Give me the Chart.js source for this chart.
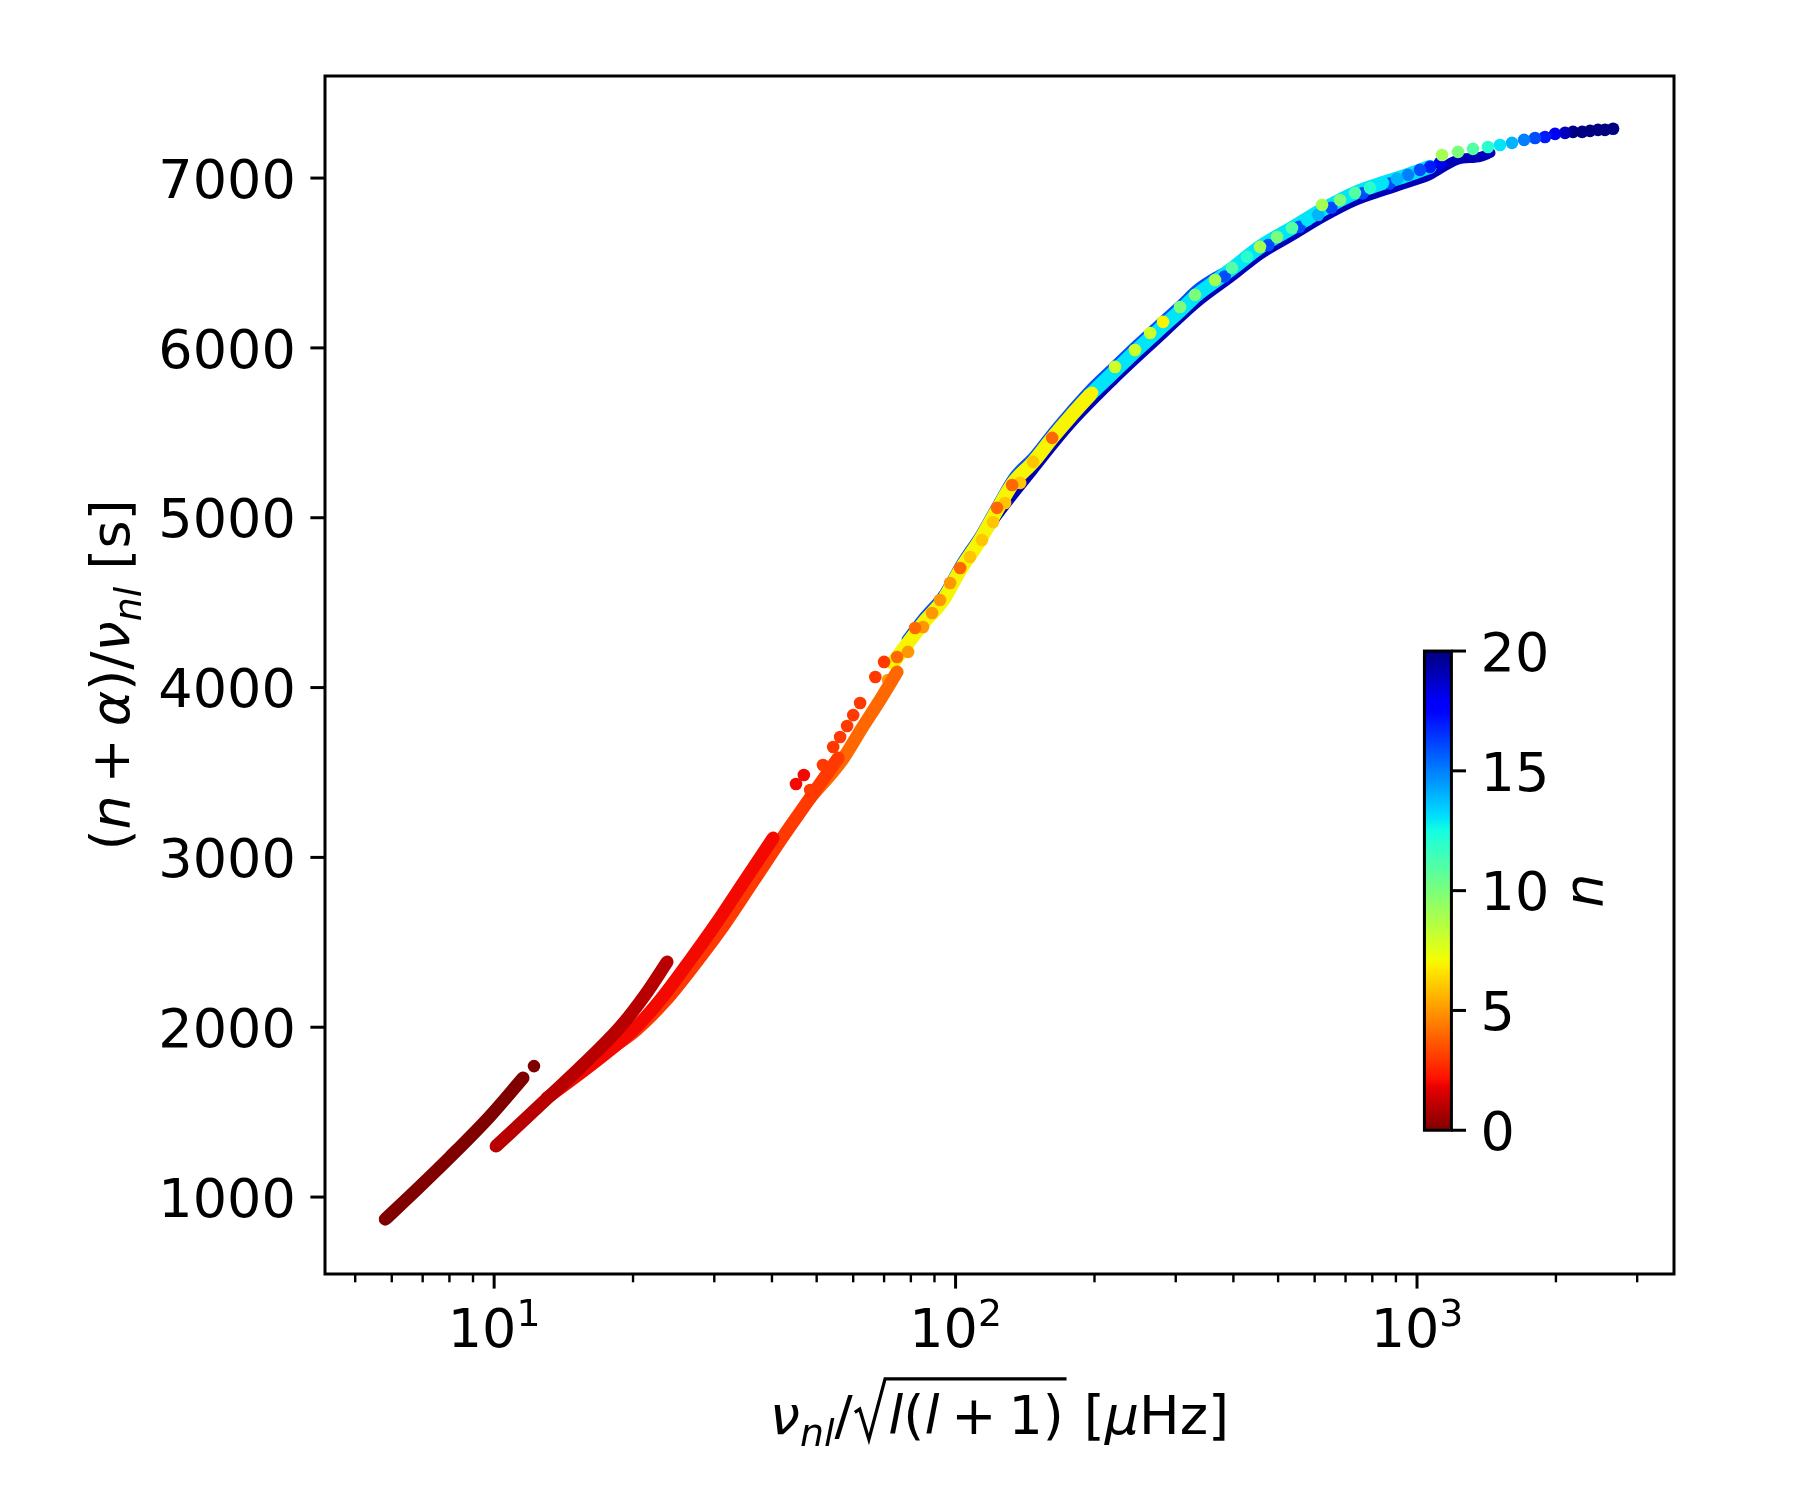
<!DOCTYPE html>
<html>
<head>
<meta charset="utf-8">
<script src="https://cdn.jsdelivr.net/npm/chart.js@4.4.0/dist/chart.umd.min.js"></script>
<style>
    html, body { margin: 0; padding: 0; background: #fff; }
    canvas { display: block; }
</style>
</head>
<body>
<canvas id="echelle" width="1800" height="1500"></canvas>
<script>
// Axis limits and ticks
const xMin = 4.30, xMax = 3605;
const yMin = 547, yMax = 7601;
const yTicks = [1000, 2000, 3000, 4000, 5000, 6000, 7000];
const xMajorTicks = [10, 100, 1000];
const xMinorTicks = [5, 6, 7, 8, 9, 20, 30, 40, 50, 60, 70, 80, 90, 200, 300, 400, 500, 600, 700, 800, 900, 2000, 3000];
const cbarTicks = [0, 5, 10, 15, 20];
const nMax = 20;

// Dense ridges (many l values overlapping), drawn as thick strokes
const s0x = [5.81, 6.81, 8.03, 9.8, 11.55];
const s0y = [870, 1047, 1236, 1477, 1701];
const s1x = [10.1, 12.58, 15.4, 18.75, 21.24, 23.7];
const s1y = [1300, 1542, 1766, 2001, 2190, 2384];
const s2x = [13.02, 16.97, 20.01, 22.89, 26.59, 30.12, 34.98, 40.23];
const s2y = [1583, 1819, 1983, 2160, 2396, 2602, 2867, 3114];
const s3x = [18.0, 20.31, 23.59, 27.67, 31.50, 36.60, 42.07, 48.39, 55.65];
const s3y = [1878, 1983, 2160, 2396, 2602, 2867, 3114, 3350, 3585];
const s4x = [48.4, 56.8, 62.7, 68.6, 74.7];
const s4y = [3350, 3574, 3762, 3927, 4092];

// Single modes, one array pair per radial order n
const p0x = [12.2];
const p0y = [1771];
const p2x = [45.1, 46.9];
const p2y = [3432, 3485];
const p3x = [48.4, 51.6, 54.3, 56.2, 58.2, 60.0, 62.1, 67.0, 70.0];
const p3y = [3397, 3544, 3650, 3709, 3774, 3838, 3909, 4062, 4151];
const p4x = [74.7, 81.7, 102.3, 123.0, 132.6, 161.9];
const p4y = [4180, 4351, 4704, 5058, 5193, 5470];
const p5x = [71.4, 78.9, 85.0, 88.9, 92.5, 97.3];
const p5y = [4045, 4210, 4357, 4439, 4516, 4616];
const p6x = [107.5, 114.1, 120.6, 128.0, 138.0, 147.2];
const p6y = [4769, 4869, 4975, 5087, 5205, 5329];
const p7x = [177.0, 197.6, 281.6];
const p7y = [5593, 5735, 6153];
const p8x = [221.6, 244.8, 264.0];
const p8y = [5888, 5988, 6088];
const p9x = [365.0, 456.8, 622.6, 1133];
const p9y = [6400, 6595, 6842, 7136];
const p10x = [306.5, 330.3, 497.3, 681.0, 1227];
const p10y = [6241, 6312, 6653, 6871, 7154];
const p11x = [397.2, 535.9, 733.9, 1322];
const p11y = [6471, 6706, 6913, 7172];
const p12x = [428.2, 791.0, 1425];
const p12y = [6536, 6942, 7183];
const p13x = [577.9, 844.0, 1513];
const p13y = [6754, 6971, 7195];
const p14x = [610.4, 905.0, 1606];
const p14y = [6783, 6995, 7207];
const p15x = [956.1, 1706];
const p15y = [7019, 7225];
const p16x = [383, 476, 556, 652, 762, 872, 1015, 1802];
const p16y = [6420, 6605, 6713, 6825, 6910, 6968, 7048, 7236];
const p17x = [1067, 1894];
const p17y = [7066, 7242];
const p18x = [1121, 1991];
const p18y = [7089, 7260];
const p19x = [2093];
const p19y = [7266];
const p20x = [2178, 2280, 2371, 2467, 2554, 2660];
const p20y = [7272, 7272, 7278, 7284, 7284, 7290];

// Overlapping modes under the dots of the upper branch
const b7x = [73.2, 85.1, 94.0, 102.3, 113.0, 123.0, 133.3, 147.3, 162.7, 177.0, 195.5];
const b7y = [4145, 4380, 4516, 4692, 4869, 5046, 5205, 5328, 5476, 5593, 5723];
const b13x = [195.5, 219.3, 247.2, 277.3, 306.4, 333.4, 368.7, 399.3, 457.1, 535.8, 622.8, 734.5, 844.3, 956.8, 1067];
const b13y = [5723, 5853, 5988, 6112, 6218, 6312, 6400, 6471, 6595, 6706, 6813, 6913, 6971, 7019, 7066];
const b16x = [78.0, 85.1, 94.0, 102.3, 113.0, 123.0, 133.3, 147.3, 162.7, 177.0, 195.5, 219.3, 247.2, 277.3, 306.4, 333.4, 368.7, 399.3];
const b16y = [4286, 4421, 4557, 4733, 4910, 5087, 5246, 5369, 5517, 5634, 5764, 5894, 6029, 6153, 6259, 6353, 6430, 6478];
const b19x = [113.0, 123.0, 147.3, 177.0, 219.3, 277.3, 333.4, 399.3, 457.1, 535.8, 622.8, 734.5, 844.3, 956.8, 1067, 1221, 1372, 1443];
const b19y = [4862, 5010, 5281, 5546, 5806, 6065, 6265, 6424, 6548, 6659, 6766, 6866, 6924, 6972, 7019, 7107, 7125, 7148];

const ridges = { 0: [s0x, s0y], 1: [s1x, s1y], 2: [s2x, s2y], 3: [s3x, s3y], 4: [s4x, s4y] };
const modes = [
    [p0x, p0y], null, [p2x, p2y], [p3x, p3y], [p4x, p4y], [p5x, p5y], [p6x, p6y],
    [p7x, p7y], [p8x, p8y], [p9x, p9y], [p10x, p10y], [p11x, p11y], [p12x, p12y],
    [p13x, p13y], [p14x, p14y], [p15x, p15y], [p16x, p16y], [p17x, p17y],
    [p18x, p18y], [p19x, p19y], [p20x, p20y]
];
// [n, x, y, stroke width], drawn underneath everything else
const bands = [[7, b7x, b7y, 14], [13, b13x, b13y, 14], [16, b16x, b16y, 8], [19, b19x, b19y, 10]];

const FONT = "'DejaVu Sans'";
const FS = 54;

/**
 * Matplotlib "jet" colormap, t in [0, 1]
 */
function jet(t) {
    const seg = (pts) => {
        for (let i = 1; i < pts.length; i++) {
            if (t <= pts[i][0]) {
                const [t0, v0] = pts[i - 1], [t1, v1] = pts[i];
                return v0 + (v1 - v0) * (t - t0) / (t1 - t0);
            }
        }
        return pts[pts.length - 1][1];
    };
    const r = seg([[0, 0], [0.35, 0], [0.66, 1], [0.89, 1], [1, 0.5]]);
    const g = seg([[0, 0], [0.125, 0], [0.375, 1], [0.64, 1], [0.91, 0], [1, 0]]);
    const b = seg([[0, 0.5], [0.11, 1], [0.34, 1], [0.65, 0], [1, 0]]);
    return `rgb(${Math.round(r * 255)}, ${Math.round(g * 255)}, ${Math.round(b * 255)})`;
}

// reversed jet: n = 0 dark red, n = 20 dark blue
const colorOf = (n) => jet(1 - n / nMax);
const toPoints = (xs, ys) => xs.map((x, i) => ({ x: x, y: ys[i] }));

function strokeSet(n, xs, ys, width) {
    return {
        data: toPoints(xs, ys),
        showLine: true,
        borderColor: colorOf(n),
        borderWidth: width || 13,
        borderCapStyle: 'round',
        borderJoinStyle: 'round',
        cubicInterpolationMode: 'monotone',
        pointRadius: 0,
        fill: false
    };
}

function dotSet(n, xs, ys) {
    return {
        data: toPoints(xs, ys),
        showLine: false,
        backgroundColor: colorOf(n),
        pointRadius: 6.3,
        pointBorderWidth: 0,
        pointHoverRadius: 6.3
    };
}

// first dataset is drawn on top, so low n first
let datasets = [];
for (let n = 0; n <= nMax; n++) {
    if (modes[n]) datasets.push(dotSet(n, modes[n][0], modes[n][1]));
    if (ridges[n]) datasets.push(strokeSet(n, ridges[n][0], ridges[n][1]));
}
bands.forEach(b => datasets.push(strokeSet(b[0], b[1], b[2], b[3])));

// Mathtext-like labels
const yTitleRuns = [
    { t: '(' }, { t: 'n', i: 1 }, { t: '+', op: 1 }, { t: 'α', i: 1 }, { t: ')/' },
    { t: 'ν', i: 1 }, { t: 'nl', i: 1, sub: 1 }, { t: ' [s]' }
];
const xTitleRuns = [
    { t: 'ν', i: 1 }, { t: 'nl', i: 1, sub: 1 }, { t: '/' },
    { sqrt: [{ t: 'l', i: 1 }, { t: '(' }, { t: 'l', i: 1 }, { t: '+', op: 1 }, { t: '1' }, { t: ')' }] },
    { t: ' [' }, { t: 'μ', i: 1 }, { t: 'Hz]' }
];

function runFont(run, size) {
    const s = (run.sub || run.sup) ? size * 0.7 : size;
    return (run.i ? 'italic ' : '') + s + 'px ' + FONT;
}

function measureRuns(ctx, runs, size) {
    let w = 0;
    runs.forEach(r => {
        if (r.sqrt) {
            w += size * 0.71 + measureRuns(ctx, r.sqrt, size);
            return;
        }
        ctx.font = runFont(r, size);
        w += ctx.measureText(r.t).width + (r.op ? size * 0.44 : 0);
    });
    return w;
}

function drawRuns(ctx, runs, x, base, size) {
    runs.forEach(r => {
        if (r.sqrt) {
            const inner = measureRuns(ctx, r.sqrt, size);
            ctx.save();
            ctx.lineWidth = size * 0.06;
            ctx.lineJoin = 'miter';
            ctx.beginPath();
            ctx.moveTo(x + 0.04 * size, base - 0.40 * size);
            ctx.lineTo(x + 0.13 * size, base - 0.46 * size);
            ctx.lineTo(x + 0.30 * size, base + 0.10 * size);
            ctx.lineTo(x + 0.60 * size, base - 1.02 * size);
            ctx.lineTo(x + 0.71 * size + inner, base - 1.02 * size);
            ctx.stroke();
            ctx.restore();
            x = drawRuns(ctx, r.sqrt, x + 0.66 * size, base, size) + 0.05 * size;
            return;
        }
        ctx.font = runFont(r, size);
        const pad = r.op ? size * 0.22 : 0;
        const dy = r.sub ? size * 0.22 : (r.sup ? -size * 0.4 : 0);
        ctx.fillText(r.t, x + pad, base + dy);
        x += ctx.measureText(r.t).width + 2 * pad;
    });
    return x;
}

// Axes frame, ticks, labels and the colorbar, all placed through the chart scales
const decorations = {
    id: 'decorations',
    afterDraw(chart) {
        const ctx = chart.ctx;
        const a = chart.chartArea;
        const xs = chart.scales.x, ys = chart.scales.y;
        const major = 14.6, minor = 8.3, pad = 14.6;

        ctx.save();
        ctx.fillStyle = '#000';
        ctx.strokeStyle = '#000';
        ctx.textAlign = 'left';
        ctx.textBaseline = 'alphabetic';

        // frame
        ctx.lineWidth = 3;
        ctx.strokeRect(a.left, a.top, a.right - a.left, a.bottom - a.top);

        // y ticks
        ctx.font = FS + 'px ' + FONT;
        yTicks.forEach(v => {
            const py = ys.getPixelForValue(v);
            ctx.beginPath();
            ctx.moveTo(a.left, py);
            ctx.lineTo(a.left - major, py);
            ctx.stroke();
            ctx.textAlign = 'right';
            ctx.fillText(String(v), a.left - major - pad, py + 0.365 * FS);
        });
        ctx.textAlign = 'left';

        // x ticks (log)
        xMajorTicks.forEach(v => {
            const px = xs.getPixelForValue(v);
            ctx.lineWidth = 3;
            ctx.beginPath();
            ctx.moveTo(px, a.bottom);
            ctx.lineTo(px, a.bottom + major);
            ctx.stroke();
            const exp = String(Math.round(Math.log10(v)));
            ctx.font = FS + 'px ' + FONT;
            const w1 = ctx.measureText('10').width;
            ctx.font = (FS * 0.7) + 'px ' + FONT;
            const w2 = ctx.measureText(exp).width;
            const x0 = px - (w1 + w2) / 2;
            const base = 1347;
            ctx.font = FS + 'px ' + FONT;
            ctx.fillText('10', x0, base);
            ctx.font = (FS * 0.7) + 'px ' + FONT;
            ctx.fillText(exp, x0 + w1, base - 0.39 * FS);
        });
        xMinorTicks.forEach(v => {
            const px = xs.getPixelForValue(v);
            ctx.lineWidth = 2.4;
            ctx.beginPath();
            ctx.moveTo(px, a.bottom);
            ctx.lineTo(px, a.bottom + minor);
            ctx.stroke();
        });

        // axis titles
        const xw = measureRuns(ctx, xTitleRuns, FS);
        drawRuns(ctx, xTitleRuns, (a.left + a.right) / 2 - xw / 2, 1434, FS);

        const yw = measureRuns(ctx, yTitleRuns, FS);
        ctx.save();
        ctx.translate(129, (a.top + a.bottom) / 2);
        ctx.rotate(-Math.PI / 2);
        drawRuns(ctx, yTitleRuns, -yw / 2, 0, FS);
        ctx.restore();

        // colorbar inset
        const cw = a.right - a.left, ch = a.bottom - a.top;
        const cl = a.left + 0.815 * cw, cr = a.left + 0.835 * cw;
        const ct = a.top + 0.48 * ch, cb = a.top + 0.88 * ch;
        const grad = ctx.createLinearGradient(0, cb, 0, ct);
        for (let k = 0; k <= 100; k++) grad.addColorStop(k / 100, jet(1 - k / 100));
        ctx.fillStyle = grad;
        ctx.fillRect(cl, ct, cr - cl, cb - ct);
        ctx.fillStyle = '#000';
        ctx.lineWidth = 3;
        ctx.strokeRect(cl, ct, cr - cl, cb - ct);

        ctx.font = FS + 'px ' + FONT;
        cbarTicks.forEach(v => {
            const py = cb - (cb - ct) * v / nMax;
            ctx.beginPath();
            ctx.moveTo(cr, py);
            ctx.lineTo(cr + major, py);
            ctx.stroke();
            ctx.fillText(String(v), cr + major + pad, py + 0.365 * FS);
        });

        ctx.save();
        ctx.font = 'italic ' + FS + 'px ' + FONT;
        ctx.textAlign = 'center';
        ctx.translate(1587 + 0.27 * FS, (ct + cb) / 2);
        ctx.rotate(-Math.PI / 2);
        ctx.fillText('n', 0, 0);
        ctx.restore();

        ctx.restore();
    }
};

const config = {
    type: 'scatter',
    data: { datasets: datasets },
    options: {
        responsive: false,
        devicePixelRatio: 1,
        animation: false,
        events: [],
        layout: { padding: { top: 76, right: 126, left: 0, bottom: 0 } },
        plugins: { legend: { display: false }, tooltip: { enabled: false } },
        scales: {
            x: {
                type: 'logarithmic',
                min: xMin,
                max: xMax,
                grid: { display: false },
                border: { display: false },
                ticks: { display: false },
                afterFit: (scale) => { scale.height = 226; }
            },
            y: {
                type: 'linear',
                min: yMin,
                max: yMax,
                grid: { display: false },
                border: { display: false },
                ticks: { display: false },
                afterFit: (scale) => { scale.width = 325; }
            }
        }
    },
    plugins: [decorations]
};

new Chart(document.getElementById('echelle'), config);
</script>
</body>
</html>
